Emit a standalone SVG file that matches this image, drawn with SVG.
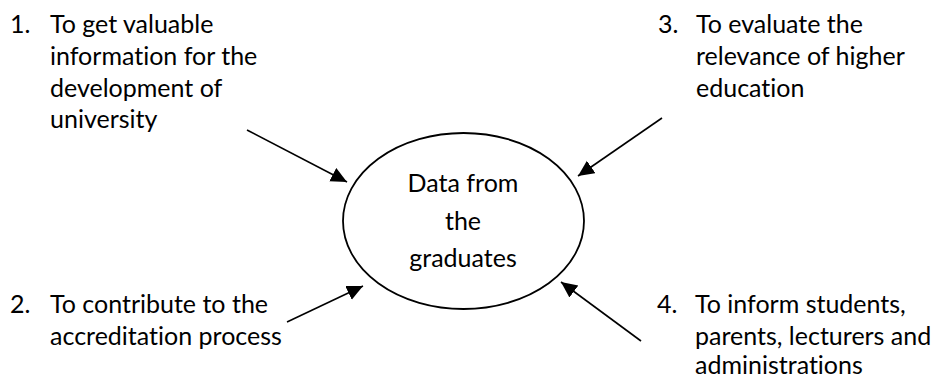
<svg xmlns="http://www.w3.org/2000/svg" width="939" height="378" viewBox="0 0 939 378">
<style>
text{font-family:Lato,"Open Sans","Liberation Sans",sans-serif;font-size:25px;fill:#000;font-variant-ligatures:none}
.c{text-anchor:middle}
.conn line{stroke:#000;stroke-width:1.6;marker-end:url(#ah)}
</style>
<defs>
<marker id="ah" markerUnits="userSpaceOnUse" markerWidth="18" markerHeight="16" refX="16" refY="7.5" orient="auto">
<path d="M0,0 L16,7.5 L0,15 Z" fill="#000"/>
</marker>
</defs>
<rect width="939" height="378" fill="#fff"/>
<g id="center">
<ellipse cx="463.5" cy="221" rx="120.5" ry="88" fill="#fff" stroke="#000" stroke-width="1.8"/>
<text class="c" x="463" y="192">Data from</text>
<text class="c" x="463" y="230">the</text>
<text class="c" x="463" y="267">graduates</text>
</g>
<g id="n1">
<text x="10" y="33">1.</text>
<text x="50" y="33">To get valuable</text>
<text x="50" y="65">information for the</text>
<text x="50" y="97">development of</text>
<text x="50" y="128">university</text>
</g>
<g id="n3">
<text x="658" y="33">3.</text>
<text x="696" y="33">To evaluate the</text>
<text x="696" y="65">relevance of higher</text>
<text x="696" y="97">education</text>
</g>
<g id="n2">
<text x="10" y="313">2.</text>
<text x="50" y="313">To contribute to the</text>
<text x="50" y="345">accreditation process</text>
</g>
<g id="n4">
<text x="657" y="313">4.</text>
<text x="695" y="313">To inform students,</text>
<text x="695" y="345">parents, lecturers and</text>
<text x="695" y="374">administrations</text>
</g>
<g class="conn" id="connectors">
<line x1="247" y1="130" x2="347" y2="182"/>
<line x1="662" y1="118" x2="578" y2="176"/>
<line x1="287" y1="322" x2="363" y2="286"/>
<line x1="641" y1="341" x2="561" y2="282"/>
</g>
</svg>
